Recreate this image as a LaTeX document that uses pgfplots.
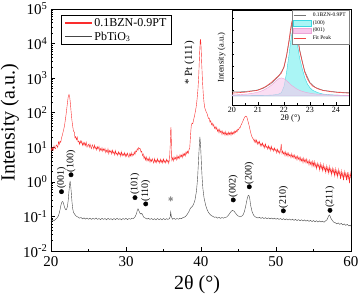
\documentclass[border=0pt]{standalone}
\usepackage{pgfplots}
\pgfplotsset{compat=1.18}
\usepackage{fontspec}
\setmainfont{Liberation Serif}
\definecolor{redline}{RGB}{250,45,45}
\definecolor{grayline}{RGB}{70,70,70}
\definecolor{cyanfill}{RGB}{170,245,245}
\definecolor{cyanline}{RGB}{60,215,225}
\definecolor{pinkfill}{RGB}{248,200,235}
\definecolor{pinkline}{RGB}{235,165,215}
\definecolor{fitred}{RGB}{240,70,70}
\definecolor{dgray}{RGB}{115,115,115}
\definecolor{stargray}{RGB}{140,140,140}
\begin{document}
\begin{tikzpicture}
\begin{axis}[
  at={(51pt,49pt)}, anchor=south west,
  scale only axis, width=300pt, height=242pt,
  xmin=20, xmax=60, ymode=log, log basis y=10, ymin=1e-2, ymax=1e5,
  xtick={20,30,...,60}, minor xtick={25,35,45,55},
  tick align=inside, xtick pos=bottom, ytick pos=left,
  major tick length=4pt, minor tick length=2pt,
  tick style={black, line width=0.6pt},
  axis line style={line width=0.8pt},
  /pgf/number format/assume math mode=true,
  ticklabel style={font=\fontsize{15}{17}\selectfont},
  xticklabel style={yshift=-1.5pt},
  yticklabel={10\textsuperscript{\pgfmathprintnumber[fixed,precision=0]{\tick}}},
  xlabel={2θ (°)}, ylabel={Intensity (a.u.)},
  label style={font=\fontsize{20}{22}\selectfont},
  xlabel style={at={(axis description cs:0.487,-0.14)}, anchor=center},
  ylabel style={at={(axis description cs:-0.137,0.53)}, anchor=center},
  legend style={at={(0.033,0.975)}, anchor=north west, draw=black, line width=0.5pt,
    font=\fontsize{12}{14}\selectfont, inner xsep=3pt, inner ysep=1pt, cells={anchor=west}},
  legend image code/.code={\draw[#1] (0pt,0pt) -- (27pt,0pt);},
]
\addplot[redline, line width=0.4pt, forget plot] coordinates {
(20.0,9.9) (20.1,8.1) (20.2,9.7) (20.3,8.2) (20.4,11.0) (20.5,9.4) (20.6,9.0) (20.7,11.7) (20.8,11.2) (20.9,9.8) (21.0,14.4) (21.1,12.1) (21.2,15.0) (21.3,13.8) (21.4,18.5) (21.5,22) (21.6,27) (21.7,33) (21.8,42) (21.9,60) (22.0,85) (22.1,130) (22.2,200) (22.3,290) (22.4,335) (22.5,280) (22.6,170) (22.7,95) (22.8,58) (22.9,40)
(23.0,29) (23.1,28) (23.2,18.5) (23.3,20.3) (23.4,16.6) (23.5,19.7) (23.6,14.4) (23.7,15.2) (23.8,12.2) (23.9,15.3) (24.0,13.0) (24.1,15.1) (24.2,11.4) (24.3,13.6) (24.4,11.4) (24.5,13.7) (24.6,11.3) (24.7,13.9) (24.8,10.1) (24.9,11.5) (25.0,12.2) (25.1,10.0) (25.2,12.4) (25.3,10.3) (25.4,9.1) (25.5,11.8) (25.6,10.6) (25.7,9.0) (25.8,11.5) (25.9,9.1) (26.0,10.3) (26.1,8.3) (26.2,10.4) (26.3,9.0) (26.4,10.6) (26.5,7.7) (26.6,9.2) (26.7,8.1) (26.8,9.7) (26.9,7.6) (27.0,9.0) (27.1,7.9) (27.2,9.3) (27.3,7.0) (27.4,8.2) (27.5,7.2) (27.6,9.1) (27.7,6.5) (27.8,8.1) (27.9,7.2) (28.0,8.1) (28.1,6.4) (28.2,8.2) (28.3,6.7) (28.4,7.4) (28.5,6.0) (28.6,8.0) (28.7,6.3) (28.8,6.8) (28.9,5.8) (29.0,7.4) (29.1,6.2) (29.2,7.0) (29.3,5.5) (29.4,7.4) (29.5,5.7) (29.6,6.5) (29.7,5.8) (29.8,7.0) (29.9,5.4) (30.0,6.5) (30.1,5.5) (30.2,6.8) (30.3,5.8) (30.4,5.1) (30.5,6.6) (30.6,5.6) (30.7,7.0) (30.8,5.5) (30.9,6.4)
(31.0,5.9) (31.1,7.3) (31.2,6.2) (31.3,7.9) (31.4,7.4) (31.5,9.1) (31.6,8.2) (31.7,9.8) (31.8,9.0) (31.9,9.2) (32.0,7.2) (32.1,7.7) (32.2,5.7) (32.3,6.4) (32.4,4.7) (32.5,5.5) (32.6,4.3) (32.7,5.3) (32.8,4.0) (32.9,4.7) (33.0,4.1) (33.1,5.1) (33.2,3.7) (33.3,4.5) (33.4,3.9) (33.5,4.7) (33.6,4.0) (33.7,3.5) (33.8,4.7) (33.9,3.7) (34.0,4.3) (34.1,3.6) (34.2,4.7) (34.3,3.8) (34.4,4.2) (34.5,3.5) (34.6,4.5) (34.7,3.7) (34.8,4.3) (34.9,3.5) (35.0,4.6) (35.1,3.7) (35.2,4.1) (35.3,3.5) (35.4,4.5) (35.5,3.8) (35.6,4.3) (35.7,3.4) (35.8,4.4) (35.9,12) (35.95,30) (36.0,38) (36.05,14) (36.1,4.2) (36.2,5.0) (36.3,4.0) (36.4,5.3) (36.5,4.5) (36.6,5.1) (36.7,4.3) (36.8,5.8) (36.9,4.6) (37.0,5.4) (37.1,4.7) (37.2,6.1) (37.3,5.2) (37.4,6.0) (37.5,5.0) (37.6,6.6) (37.7,5.6) (37.8,6.6) (37.9,5.6) (38.0,7.4) (38.1,6.4) (38.2,7.7) (38.3,6.7) (38.4,8.6) (38.5,9.5)
(38.6,22) (38.7,42) (38.8,50) (38.9,48) (39.0,60) (39.1,75) (39.2,95) (39.3,125) (39.4,170) (39.5,280) (39.6,500) (39.7,1200) (39.8,4500) (39.9,12500) (39.95,13000) (40.0,9000) (40.1,2500) (40.2,800) (40.3,350) (40.4,200) (40.5,140) (40.6,120) (40.7,105) (40.8,95) (40.9,80)
(41.0,68) (41.1,70) (41.2,53) (41.3,59) (41.4,45) (41.5,50) (41.6,41) (41.7,46) (41.8,35) (41.9,39) (42.0,33) (42.1,38) (42.2,29) (42.3,33) (42.4,26.4) (42.5,33) (42.6,27) (42.7,29.6) (42.8,23.5) (42.9,29.2) (43.0,24.2) (43.1,27.1) (43.2,22.3) (43.3,28.5) (43.4,22.8) (43.5,25.7) (43.6,22.1) (43.7,27.6) (43.8,23.5) (43.9,26.8) (44.0,22.3) (44.1,27.8) (44.2,23.8) (44.3,27.6) (44.4,24.1) (44.5,29.6) (44.6,26.6) (44.7,31) (44.8,27.6) (44.9,33.3) (45.0,31.7) (45.1,37) (45.2,36) (45.3,42) (45.4,46) (45.5,52) (45.6,58) (45.7,66) (45.8,72) (45.9,78) (46.0,80) (46.1,76) (46.2,64) (46.3,53) (46.4,44) (46.5,35) (46.6,28) (46.7,23) (46.8,20) (46.9,18)
(47.0,17.3) (47.1,14.4) (47.2,17) (47.3,13.8) (47.4,16.2) (47.5,12.3) (47.6,14.7) (47.7,12.6) (47.8,14.8) (47.9,11) (48.0,12.9) (48.1,11) (48.2,13.3) (48.3,10.4) (48.4,11.9) (48.5,9.5) (48.6,12.5) (48.7,9.9) (48.8,10.6) (48.9,8.8) (49.0,11.1) (49.1,8.9) (49.2,10.3) (49.3,8.0) (49.4,10.6) (49.5,8.4) (49.6,9.2) (49.7,7.7) (49.8,9.6) (49.9,7.9) (50.0,8.8) (50.1,6.9) (50.2,8.8) (50.3,7.1) (50.4,8.0) (50.5,6.6) (50.6,8.1) (50.7,12.5) (50.8,6.5) (50.9,7.9) (51.0,6.4) (51.1,7.2) (51.2,5.7) (51.3,7.5) (51.4,5.8) (51.5,6.8) (51.6,5.4) (51.7,6.8) (51.8,5.6) (51.9,6.1) (52.0,5.0) (52.1,6.6) (52.2,5.2) (52.3,5.9) (52.4,4.8) (52.5,6.0) (52.6,4.7) (52.7,5.4) (52.8,4.3) (52.9,5.6) (53.0,4.5) (53.1,5.1) (53.2,4.0) (53.3,5.1) (53.4,4.0) (53.5,4.7) (53.6,3.6) (53.7,4.9) (53.8,3.8) (53.9,4.4) (54.0,3.5) (54.1,4.6) (54.2,3.5) (54.3,4.0) (54.4,3.1) (54.5,4.2) (54.6,3.2) (54.7,3.8) (54.8,2.8) (54.9,3.9) (55.0,2.9) (55.1,3.9) (55.2,2.7) (55.3,3.4) (55.4,2.4) (55.5,3.5) (55.6,2.7) (55.7,3.2) (55.8,2.2) (55.9,3.4) (56.0,2.4) (56.1,3.0) (56.2,2.1) (56.3,3.2) (56.4,2.2) (56.5,2.7) (56.6,1.9) (56.7,2.9) (56.8,2.0) (56.9,2.6) (57.0,1.8) (57.1,2.8) (57.2,1.9) (57.3,2.4) (57.4,1.6) (57.5,2.5) (57.6,1.8) (57.7,2.3) (57.8,1.5) (57.9,2.4) (58.0,1.6) (58.1,2.1) (58.2,1.4) (58.3,2.3) (58.4,1.6) (58.5,2.0) (58.6,1.2) (58.7,2.1) (58.8,1.4) (58.9,1.8) (59.0,1.1) (59.1,2.0) (59.2,1.4) (59.3,1.8) (59.4,1.1) (59.5,1.9) (59.6,1.2) (59.7,1.7) (59.8,0.9) (59.9,1.8) (60.0,1.3)
};
\addplot[grayline, line width=0.4pt, forget plot] coordinates {
(20.0,0.072) (20.2,0.079) (20.4,0.074) (20.6,0.083) (20.8,0.09) (21.0,0.105) (21.1,0.125) (21.2,0.155) (21.3,0.2) (21.4,0.245) (21.5,0.27) (21.6,0.262) (21.7,0.225) (21.8,0.185) (21.9,0.165) (22.0,0.155) (22.1,0.165) (22.2,0.2) (22.3,0.3) (22.4,0.55) (22.5,0.92) (22.55,1.02) (22.6,0.92) (22.7,0.5) (22.8,0.26) (22.9,0.165) (23.0,0.13) (23.2,0.112) (23.4,0.1) (23.6,0.096) (23.8,0.089) (24.0,0.093) (24.2,0.085) (24.4,0.091) (24.6,0.084) (24.8,0.09) (25.0,0.083) (25.2,0.089) (25.4,0.082) (25.6,0.088) (25.8,0.083) (26.0,0.09) (26.2,0.082) (26.4,0.087) (26.6,0.081) (26.8,0.088) (27.0,0.082) (27.2,0.087) (27.4,0.08) (27.6,0.088) (27.8,0.082) (28.0,0.086) (28.2,0.08) (28.4,0.087) (28.6,0.081) (28.8,0.088) (29.0,0.082) (29.2,0.086) (29.4,0.08) (29.6,0.087) (29.8,0.082) (30.0,0.088) (30.2,0.081) (30.4,0.087) (30.6,0.083) (30.8,0.089) (31.0,0.087) (31.2,0.097) (31.4,0.12) (31.5,0.148) (31.6,0.165) (31.7,0.15) (31.8,0.132) (31.9,0.121) (32.0,0.117) (32.1,0.123) (32.2,0.114) (32.3,0.1) (32.4,0.094) (32.6,0.089) (32.8,0.084) (33.0,0.088) (33.2,0.082) (33.4,0.087) (33.6,0.081) (33.8,0.086) (34.0,0.08) (34.2,0.087) (34.4,0.081) (34.6,0.086) (34.8,0.08) (35.0,0.087) (35.2,0.081) (35.4,0.086) (35.6,0.082) (35.8,0.087) (35.9,0.1) (35.96,0.135) (36.05,0.098) (36.2,0.083) (36.4,0.088) (36.6,0.082) (36.8,0.087) (37.0,0.083) (37.2,0.089) (37.4,0.086) (37.6,0.093) (37.8,0.095) (38.0,0.104) (38.2,0.118) (38.4,0.14) (38.6,0.175) (38.8,0.19) (39.0,0.22) (39.2,0.3) (39.4,0.55) (39.55,1.3) (39.65,3.5) (39.75,9) (39.85,20) (39.95,11) (40.05,3.5) (40.15,1.3) (40.25,0.65) (40.4,0.35) (40.6,0.22) (40.8,0.16) (41.0,0.13) (41.2,0.115) (41.4,0.105) (41.6,0.1) (41.8,0.094) (42.0,0.097) (42.2,0.089) (42.4,0.094) (42.6,0.088) (42.8,0.093) (43.0,0.089) (43.2,0.094) (43.4,0.095) (43.6,0.105) (43.8,0.12) (44.0,0.138) (44.2,0.15) (44.4,0.142) (44.6,0.125) (44.8,0.11) (45.0,0.102) (45.2,0.097) (45.4,0.101) (45.6,0.11) (45.8,0.14) (46.0,0.22) (46.15,0.32) (46.3,0.41) (46.4,0.4) (46.5,0.33) (46.6,0.22) (46.8,0.14) (47.0,0.11) (47.2,0.098) (47.4,0.094) (47.6,0.09) (47.8,0.094) (48.0,0.088) (48.2,0.093) (48.4,0.087) (48.6,0.092) (48.8,0.086) (49.0,0.091) (49.2,0.085) (49.4,0.09) (49.6,0.084) (49.8,0.089) (50.0,0.083) (50.2,0.088) (50.4,0.082) (50.6,0.087) (50.8,0.081) (51.0,0.086) (51.2,0.08) (51.4,0.085) (51.6,0.079) (51.8,0.084) (52.0,0.078) (52.2,0.083) (52.4,0.077) (52.6,0.082) (52.8,0.076) (53.0,0.081) (53.2,0.075) (53.4,0.08) (53.6,0.074) (53.8,0.079) (54.0,0.073) (54.2,0.078) (54.4,0.072) (54.6,0.077) (54.8,0.071) (55.0,0.076) (55.2,0.07) (55.4,0.075) (55.6,0.069) (55.8,0.074) (56.0,0.069) (56.2,0.073) (56.4,0.068) (56.6,0.074) (56.8,0.08) (56.9,0.09) (57.0,0.102) (57.1,0.11) (57.2,0.104) (57.3,0.09) (57.5,0.077) (57.7,0.068) (57.9,0.066) (58.1,0.061) (58.3,0.065) (58.5,0.059) (58.7,0.063) (58.9,0.057) (59.1,0.061) (59.3,0.055) (59.5,0.059) (59.7,0.053) (59.9,0.056) (60.0,0.052)
};
\addlegendimage{draw=redline, line width=1.2pt}
\addlegendentry{0.1BZN-0.9PT}
\addlegendimage{draw=grayline, line width=0.9pt}
\addlegendentry{PbTiO\textsubscript{3}}
\addplot[only marks, mark=*, mark size=2.2pt, black, forget plot,
  nodes near coords, point meta=explicit symbolic,
  nodes near coords style={rotate=90, anchor=west, inner sep=2.5pt, black, font=\fontsize{10}{12}\selectfont}]
  table[meta=label] {
x y label
21.4 0.52 (001)
22.67 1.6 (100)
31.2 0.35 (101)
32.63 0.23 (110)
44.3 0.3 (002)
46.44 0.72 (200)
50.98 0.145 (210)
57.2 0.15 (211)
};
\addplot[only marks, mark=asterisk, mark size=2.5pt, stargray, line width=0.9pt, forget plot] coordinates {(35.96,0.32)};
\node[rotate=90, anchor=west, font=\fontsize{11}{13}\selectfont, inner sep=0pt] at (axis cs:38.45,650) {* Pt (111)};
\end{axis}

\begin{axis}[
  at={(232pt,195pt)}, anchor=south west,
  scale only axis, width=117pt, height=95pt,
  xmin=20, xmax=24.5, ymin=-0.095, ymax=0.905,
  axis background/.style={fill=white},
  xtick={20,21,22,23,24}, minor xtick={20.5,21.5,22.5,23.5},
  ytick={0.065,0.19,0.315,0.44,0.565,0.69,0.815}, yticklabel=\empty,
  tick align=inside, xtick pos=bottom, ytick pos=left,
  major tick length=2.5pt, minor tick length=1.5pt,
  tick style={black, line width=0.5pt},
  axis line style={line width=0.6pt},
  /pgf/number format/assume math mode=true,
  ticklabel style={font=\fontsize{8}{9}\selectfont},
  xticklabel style={yshift=1pt},
  xlabel={2θ (°)}, ylabel={Intensity (a.u.)},
  label style={font=\fontsize{8.5}{10}\selectfont},
  xlabel style={at={(axis description cs:0.5,-0.14)}, anchor=center},
  ylabel style={at={(axis description cs:-0.09,0.5)}, anchor=center},
  legend style={at={(1,1)}, anchor=north east, draw=gray, line width=0.3pt,
    font=\fontsize{5.5}{6}\selectfont, inner xsep=1pt, inner ysep=0.5pt, row sep=-1.5pt, cells={anchor=west}},
  legend image code/.code={\draw[#1] (0pt,0pt) -- (12pt,0pt);},
]
\addplot[draw=cyanline, line width=0.4pt, fill=cyanfill, forget plot] coordinates {
(20.0,0.004) (20.5,0.005) (21.0,0.006) (21.4,0.008) (21.6,0.011) (21.8,0.02) (21.9,0.035) (22.0,0.1) (22.05,0.17) (22.1,0.25) (22.15,0.35) (22.2,0.445) (22.25,0.56) (22.3,0.65) (22.35,0.70) (22.4,0.695) (22.45,0.65) (22.5,0.57) (22.55,0.485) (22.6,0.40) (22.7,0.29) (22.8,0.19) (22.9,0.126) (23.0,0.086) (23.1,0.06) (23.3,0.035) (23.5,0.02) (23.8,0.012) (24.1,0.008) (24.5,0.006)
} \closedcycle;
\addplot[draw=pinkline, line width=0.4pt, fill=pinkfill, fill opacity=0.6, forget plot] coordinates {
(20.0,0.011) (20.2,0.013) (20.4,0.017) (20.6,0.021) (20.8,0.029) (21.0,0.04) (21.2,0.059) (21.4,0.091) (21.5,0.11) (21.6,0.135) (21.7,0.161) (21.8,0.182) (21.9,0.19) (22.0,0.182) (22.1,0.161) (22.2,0.135) (22.3,0.11) (22.4,0.091) (22.5,0.072) (22.6,0.059) (22.7,0.049) (22.8,0.041) (22.9,0.034) (23.0,0.029) (23.2,0.021) (23.4,0.017) (23.6,0.013) (23.8,0.011) (24.0,0.009) (24.5,0.006)
} \closedcycle;
\addplot[dgray, line width=0.5pt, forget plot] coordinates {
(20.0,0.045) (20.3,0.043) (20.6,0.05) (20.9,0.058) (21.2,0.08) (21.5,0.13) (21.8,0.21) (22.0,0.3) (22.1,0.42) (22.2,0.58) (22.3,0.76) (22.35,0.8) (22.4,0.79) (22.5,0.66) (22.6,0.49) (22.7,0.37) (22.8,0.26) (23.0,0.14) (23.2,0.09) (23.5,0.06) (24.0,0.042) (24.5,0.035)
};
\addplot[fitred, line width=0.6pt, forget plot] coordinates {
(20.0,0.03) (20.5,0.04) (21.0,0.06) (21.3,0.1) (21.5,0.14) (21.7,0.19) (21.9,0.24) (22.0,0.31) (22.1,0.43) (22.2,0.6) (22.25,0.7) (22.3,0.78) (22.35,0.82) (22.4,0.8) (22.45,0.75) (22.5,0.66) (22.55,0.57) (22.6,0.48) (22.7,0.36) (22.8,0.25) (22.9,0.18) (23.0,0.135) (23.1,0.105) (23.3,0.075) (23.5,0.058) (23.8,0.045) (24.1,0.037) (24.5,0.03)
};
\addlegendimage{draw=dgray, line width=0.6pt}
\addlegendentry{0.1BZN-0.9PT}
\addlegendimage{area legend, draw=cyanline, fill=cyanfill}
\addlegendentry{(100)}
\addlegendimage{area legend, draw=pinkline, fill=pinkfill}
\addlegendentry{(001)}
\addlegendimage{draw=fitred, line width=0.6pt}
\addlegendentry{Fit Peak}
\end{axis}
\pgfresetboundingbox
\path[use as bounding box] (0pt,0pt) rectangle (360pt,300pt);
\end{tikzpicture}
\end{document}
